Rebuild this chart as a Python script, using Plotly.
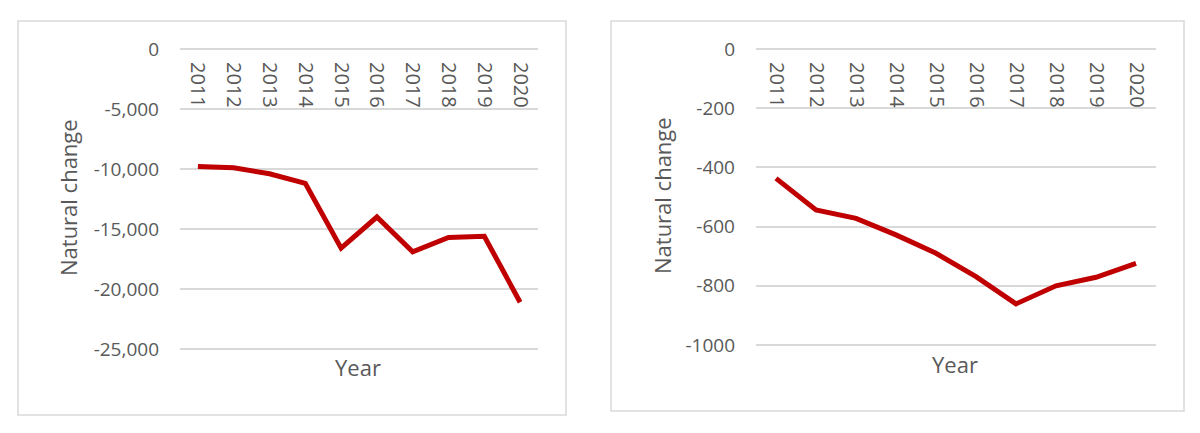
import plotly.graph_objects as go

years = [2011, 2012, 2013, 2014, 2015, 2016, 2017, 2018, 2019, 2020]
year_labels = [str(y) for y in years]

# left panel: larger region
change_left = [-9800, -9900, -10400, -11200, -16600, -14000, -16900, -15700, -15600, -21100]
left_ticks = [0, -5000, -10000, -15000, -20000, -25000]
left_ticktext = ['0', '-5,000', '-10,000', '-15,000', '-20,000', '-25,000']

# right panel: smaller region
change_right = [-437, -544, -572, -628, -690, -769, -861, -800, -771, -724]
right_ticks = [0, -200, -400, -600, -800, -1000]
right_ticktext = ['0', '-200', '-400', '-600', '-800', '-1000']

W, H = 1200, 433
FONT = 'Open Sans'
TXT = '#595959'
GRID = '#D9D9D9'
RED = '#C00000'


def px(x):
    return x / W


def py(y):
    return 1 - y / H


fig = go.Figure()

fig.add_trace(go.Scatter(x=year_labels, y=change_left, mode='lines',
                         line=dict(color=RED, width=5),
                         xaxis='x', yaxis='y', showlegend=False))
fig.add_trace(go.Scatter(x=year_labels, y=change_right, mode='lines',
                         line=dict(color=RED, width=5),
                         xaxis='x2', yaxis='y2', showlegend=False))

xcommon = dict(type='category', showgrid=False, zeroline=False, showline=False,
               tickangle=90, ticks='', ticklabelstandoff=12,
               tickfont=dict(family=FONT, size=20, color=TXT),
               side='bottom', anchor='free', range=[-0.5, 9.5], automargin=False)
ycommon = dict(showgrid=True, gridcolor=GRID, gridwidth=1.5, zeroline=False,
               showline=False, ticks='', ticklabelstandoff=20, automargin=False,
               tickfont=dict(family=FONT, size=19, color=TXT))

fig.update_layout(
    template='none',
    width=W, height=H,
    margin=dict(l=0, r=0, t=0, b=0, pad=0),
    paper_bgcolor='white', plot_bgcolor='white',
    xaxis=dict(xcommon, domain=[px(180), px(538)], position=py(49)),
    yaxis=dict(ycommon, domain=[py(352), py(46)], range=[-25250, 250],
               tickvals=left_ticks, ticktext=left_ticktext, anchor='x'),
    xaxis2=dict(xcommon, domain=[px(756), px(1156)], position=py(49)),
    yaxis2=dict(ycommon, domain=[py(348), py(46)], range=[-1010, 10],
                tickvals=right_ticks, ticktext=right_ticktext, anchor='x2'),
    shapes=[
        dict(type='rect', xref='paper', yref='paper',
             x0=px(18), x1=px(566), y0=py(415), y1=py(21),
             line=dict(color=GRID, width=1.5)),
        dict(type='rect', xref='paper', yref='paper',
             x0=px(611), x1=px(1184), y0=py(411), y1=py(21),
             line=dict(color=GRID, width=1.5)),
    ],
)

titles = [
    ('Natural change', 68, 198, -90),
    ('Year', 358, 367, 0),
    ('Natural change', 662, 196, -90),
    ('Year', 955, 364, 0),
]
for text, x, y, ang in titles:
    fig.add_annotation(text=text, x=px(x), y=py(y), xref='paper', yref='paper',
                       xanchor='center', yanchor='middle',
                       showarrow=False, textangle=ang,
                       font=dict(family=FONT, size=22, color=TXT))

# drop the default page margin so the figure sits at the window corner
fig.write_html('out.html', config={'displayModeBar': False},
               post_script="document.body.style.margin='0';")
